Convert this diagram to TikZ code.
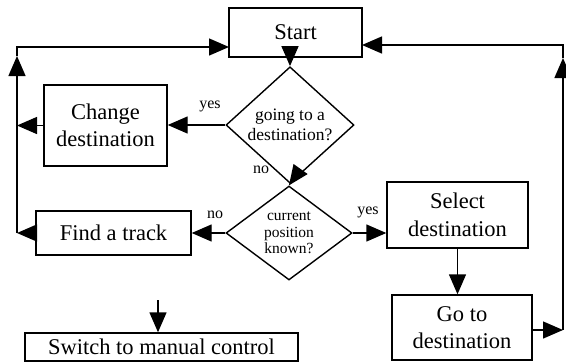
\documentclass[tikz,border=0pt]{standalone}
\usepackage{fontspec}
\setmainfont{Liberation Serif}
\usetikzlibrary{shapes.geometric,arrows.meta}
\begin{document}
\begin{tikzpicture}[x=1pt,y=-1pt,
  line width=1.4pt,
  box/.style={draw,rectangle,inner sep=0pt,align=center,font=\fontsize{22.5}{27.5}\selectfont},
  dia/.style={draw,diamond,inner sep=0pt,align=center},
  lbl/.style={inner sep=0pt,font=\fontsize{16}{18}\selectfont},
  arr/.style={-{Triangle[length=20pt,width=17pt]}}]
\useasboundingbox (0,0) rectangle (566,362);
% boxes
\node[box,minimum width=133pt,minimum height=49pt] (start) at (295.5,32.5) {Start};
\node[box,minimum width=123pt,minimum height=81pt] (chg) at (105.5,125.5) {Change\\destination};
\node[box,minimum width=155pt,minimum height=44pt] (ft) at (113.5,233) {Find a track};
\node[box,minimum width=141pt,minimum height=66pt] (sel) at (457.5,215) {Select\\destination};
\node[box,minimum width=140pt,minimum height=65pt] (go) at (462,327.5) {Go to\\destination};
\node[box,minimum width=273pt,minimum height=28pt] (sw) at (161.5,347) {Switch to manual control};
% diamonds
\node[dia,minimum width=128pt,minimum height=90pt,font=\fontsize{17.5}{20}\selectfont] (d1) at (290,125) {going to a\\destination?};
\node[dia,minimum width=126pt,minimum height=94pt,font=\fontsize{15.5}{16.5}\selectfont] (d2) at (289,233) {current\\position\\known?};
% labels
\node[lbl] (yes1) at (210,106) {yes};
\node[lbl] (no1) at (261,170) {no};
\node[lbl] (no2) at (215,215) {no};
\node[lbl] (yes2) at (368,212) {yes};
% coordinates
\coordinate (lc) at (17,233);
\coordinate (lcc) at (17,125.5);
\coordinate (lu) at (17,56);
\coordinate (s47) at (229,47);
\coordinate (rc) at (563,330);
\coordinate (ru) at (563,58);
\coordinate (s45) at (362,45);
\coordinate (swtop) at (158,300);
% connectors
\draw[arr] (start.south -| d1.north) -- (d1.north);
\draw[arr] (d1.south) -- (d2.north);
\draw[arr] (d1.west) -- (chg.east |- d1.west);
\draw[arr] (chg.west) -- (lcc);
\draw[arr] (d2.west) -- (ft.east |- d2.west);
\draw[arr] (d2.east) -- (sel.west |- d2.east);
\draw[arr] (ft.west) -- (lc);
\draw[arr] (lc) -- (lu);
\draw[arr] (lu) |- (s47);
\draw[arr] (sel.south) -- (go.north -| sel.south);
\draw[arr] (go.east |- rc) -- (rc);
\draw[arr] (rc) -- (ru);
\draw[arr] (ru) |- (s45);
\draw[arr] (swtop) -- (swtop |- sw.north);
\end{tikzpicture}
\end{document}
